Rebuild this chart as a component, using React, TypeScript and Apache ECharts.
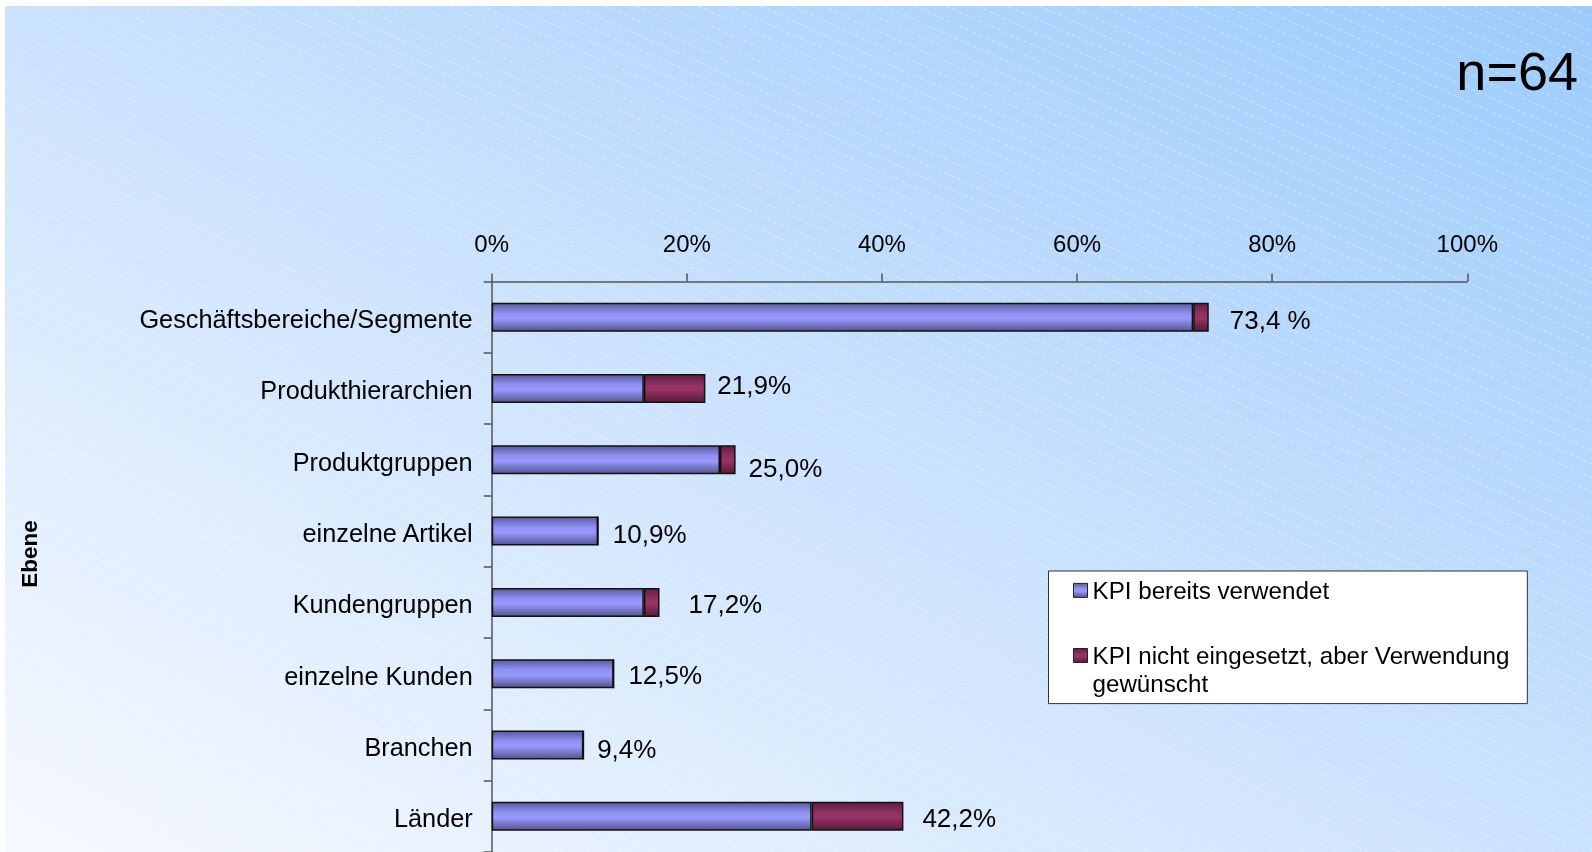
import { useEffect, useRef } from "react";
import * as echarts from "echarts";

const categories = [
  "Geschäftsbereiche/Segmente",
  "Produkthierarchien",
  "Produktgruppen",
  "einzelne Artikel",
  "Kundengruppen",
  "einzelne Kunden",
  "Branchen",
  "Länder",
];
const seriesNames = [
  "KPI bereits verwendet",
  "KPI nicht eingesetzt, aber Verwendung gewünscht",
];
const legendTexts = [
  "KPI bereits verwendet",
  " \nKPI nicht eingesetzt, aber Verwendung\ngewünscht",
];
const usedValues = [71.9, 15.6, 23.4, 10.9, 15.6, 12.5, 9.4, 32.8];
const wishedValues = [1.6, 6.3, 1.6, 0, 1.6, 0, 0, 9.4];
const totalLabels = ["73,4 %", "21,9%", "25,0%", "10,9%", "17,2%", "12,5%", "9,4%", "42,2%"];
const xTickMin = 0;
const xTickMax = 100;
const xTickStep = 20;
const sampleText = "n=64";
const axisTitle = "Ebene";

// label nudges (layout only) [dx, dy] in px
const labelNudges = [
  [21, 3],
  [12, -3.5],
  [13, 8],
  [14, 3],
  [29, 2],
  [14, 1],
  [13, 4],
  [19, 1.5],
];

const FONT = '"Liberation Sans", Arial, Helvetica, sans-serif';
const W = 1592;
const H = 852;

function bgLines() {
  const out: any[] = [];
  const s = 0.45;
  const step = 31;
  const x0min = 5 - (H - 6) / s - step;
  for (let x0 = x0min; x0 < W; x0 += step) {
    let sx = x0;
    let sy = 6;
    if (sx < 5) {
      sy = 6 + s * (5 - x0);
      sx = 5;
    }
    if (sy >= H) continue;
    let ex = W;
    let ey = 6 + s * (W - x0);
    if (ey > H) {
      ey = H;
      ex = x0 + (H - 6) / s;
    }
    out.push({
      type: "line",
      silent: true,
      z: -9,
      shape: { x1: sx, y1: sy, x2: ex, y2: ey },
      style: { stroke: "rgba(255,255,255,0.4)", lineWidth: 1, lineDash: [4, 3] },
    });
  }
  return out;
}

export default function App() {
  const ref = useRef<HTMLDivElement>(null);
  useEffect(() => {
    if (!ref.current) return;
    const chart = echarts.init(ref.current, undefined, { renderer: "svg" });
    const blue = new echarts.graphic.LinearGradient(0, 0, 0, 1, [
      { offset: 0, color: "#5a5aa0" },
      { offset: 0.35, color: "#9090f0" },
      { offset: 0.55, color: "#9999ff" },
      { offset: 1, color: "#55558f" },
    ]);
    const red = new echarts.graphic.LinearGradient(0, 0, 0, 1, [
      { offset: 0, color: "#5e1f40" },
      { offset: 0.35, color: "#8f3060" },
      { offset: 0.55, color: "#993366" },
      { offset: 1, color: "#561c3a" },
    ]);
    const bg = new echarts.graphic.LinearGradient(0, 1, 1, 0, [
      { offset: 0, color: "#f6f9ff" },
      { offset: 0.5, color: "#cbe2fd" },
      { offset: 1, color: "#9ccbfb" },
    ]);
    chart.setOption({
      animation: false,
      textStyle: { fontFamily: FONT },
      graphic: [
        {
          type: "rect",
          silent: true,
          z: -10,
          shape: { x: 5, y: 6, width: W - 5, height: H - 6 },
          style: { fill: bg },
        },
        ...bgLines(),
        {
          type: "text",
          silent: true,
          x: 1578,
          y: 71,
          style: {
            text: sampleText,
            fontSize: 54,
            fontFamily: FONT,
            fill: "#000",
            align: "right",
            verticalAlign: "middle",
          },
        },
        {
          type: "text",
          silent: true,
          x: 29,
          y: 554,
          rotation: Math.PI / 2,
          style: {
            text: axisTitle,
            fontSize: 22.5,
            fontWeight: "bold",
            fontFamily: FONT,
            fill: "#000",
            align: "center",
            verticalAlign: "middle",
          },
        },
      ],
      legend: {
        orient: "vertical",
        left: 1048.5,
        top: 571,
        padding: [5.2, 18, 5.5, 24.5],
        itemGap: 8.3,
        itemWidth: 14,
        itemHeight: 14,
        icon: "rect",
        selectedMode: false,
        backgroundColor: "#ffffff",
        borderColor: "#333333",
        borderWidth: 1,
        borderRadius: 0,
        itemStyle: { borderColor: "#222", borderWidth: 1 },
        textStyle: { fontSize: 24.2, color: "#000", fontFamily: FONT, lineHeight: 28.4 },
        formatter: (name: string) => legendTexts[seriesNames.indexOf(name)],
        data: seriesNames,
      },
      grid: { left: 491.7, top: 281.5, width: 975.6, height: 579 },
      xAxis: {
        type: "value",
        position: "top",
        min: xTickMin,
        max: xTickMax,
        interval: xTickStep,
        axisLine: { show: true, lineStyle: { color: "#555", width: 1.5 } },
        axisTick: { show: true, length: 8, lineStyle: { color: "#555", width: 1.5 } },
        axisLabel: {
          formatter: (v: number) => `${v}%`,
          fontSize: 24,
          color: "#000",
          fontFamily: FONT,
          margin: 26,
        },
        splitLine: { show: false },
      },
      yAxis: {
        type: "category",
        data: categories,
        inverse: true,
        axisLine: { show: true, lineStyle: { color: "#555", width: 1.5 } },
        axisTick: { show: true, length: 8, lineStyle: { color: "#555", width: 1.5 } },
        axisLabel: {
          fontSize: 25.3,
          color: "#000",
          fontFamily: FONT,
          margin: 19,
          verticalAlign: "top",
          lineHeight: 4,
        },
      },
      series: [
        {
          name: seriesNames[0],
          type: "bar",
          stack: "total",
          barWidth: 29,
          data: usedValues,
          itemStyle: { color: blue, borderColor: "#111", borderWidth: 1.5 },
          emphasis: { disabled: true },
        },
        {
          name: seriesNames[1],
          type: "bar",
          stack: "total",
          barWidth: 29,
          data: wishedValues.map((v, i) => ({
            value: v,
            label: { offset: labelNudges[i] },
          })),
          itemStyle: { color: red, borderColor: "#111", borderWidth: 1.5 },
          emphasis: { disabled: true },
          label: {
            show: true,
            position: "right",
            distance: 0,
            fontSize: 26,
            color: "#000",
            fontFamily: FONT,
            formatter: (p: any) => totalLabels[p.dataIndex],
          },
        },
      ],
    });
    return () => chart.dispose();
  }, []);
  return (
    <div
      ref={ref}
      style={{ position: "fixed", left: 0, top: 0, width: W, height: H }}
    />
  );
}
